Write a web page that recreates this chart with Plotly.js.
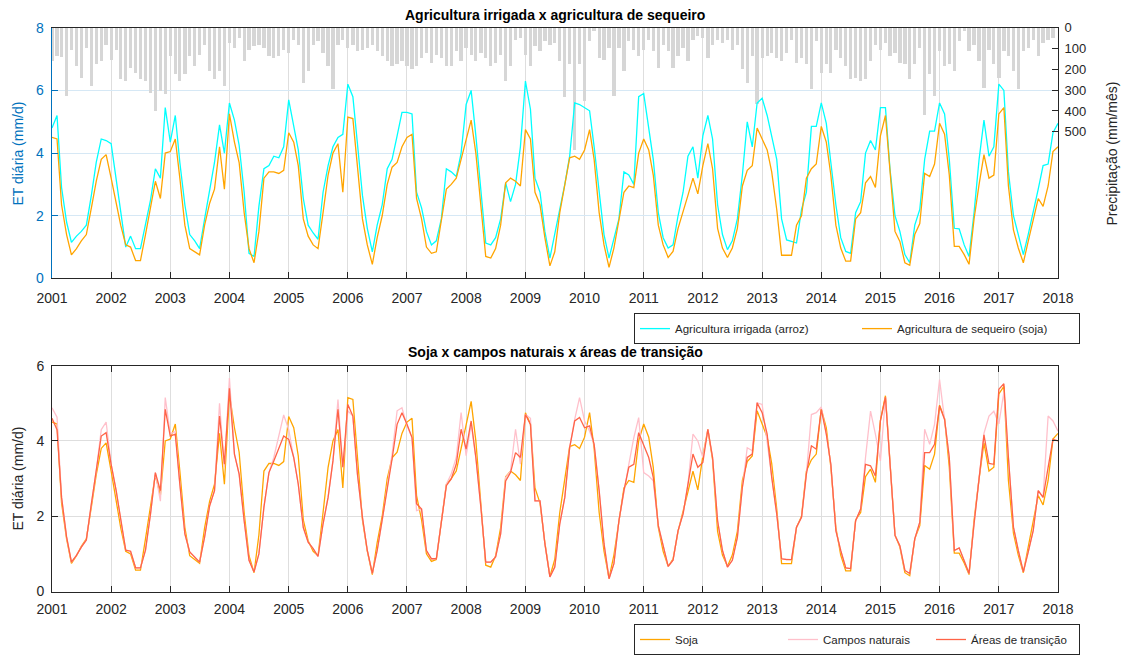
<!DOCTYPE html>
<html>
<head>
<meta charset="utf-8">
<script src="https://cdn.plot.ly/plotly-3.0.1.min.js"></script>
<style>html,body{margin:0;padding:0;background:#fff;}#chart{width:1125px;height:655px;}</style>
</head>
<body>
<div id="chart"></div>
<script>
// ---- data ----
const yearTicks = [2001,2002,2003,2004,2005,2006,2007,2008,2009,2010,2011,2012,2013,2014,2015,2016,2017,2018];

// ET diária (mm/d), monthly Jan 2001 ... Jan 2018
const irrigadaArroz = [
 4.8,5.2,2.9,1.8,1.15,1.35,1.5,1.7,2.65,3.7,4.45,4.4,
 4.3,3.2,2.2,1.0,1.35,0.95,0.95,1.7,2.5,3.5,3.2,5.45,
 4.35,5.2,3.7,2.35,1.4,1.2,0.95,1.9,2.85,3.7,4.9,4.0,
 5.6,5.05,4.25,2.75,0.8,0.7,2.3,3.5,3.6,3.9,3.85,4.2,
 5.7,4.85,4.1,2.55,1.7,1.45,1.25,2.75,3.6,4.2,4.5,4.6,
 6.2,5.8,4.25,2.65,1.6,0.85,1.7,2.35,3.5,3.8,4.55,5.3,
 5.3,5.25,2.75,2.25,1.5,1.07,1.2,1.9,3.5,3.4,3.25,4.0,
 5.55,6.0,4.55,2.75,1.13,1.07,1.3,1.9,3.05,2.45,3.0,4.2,
 6.3,5.4,3.2,2.75,1.5,0.65,1.4,2.25,3.0,3.9,5.6,5.55,
 5.45,5.35,4.2,2.75,1.4,0.65,1.3,1.9,3.4,3.3,3.0,5.8,
 5.9,4.75,3.8,2.1,1.3,0.97,1.07,2.0,2.75,3.9,4.2,3.2,
 4.55,5.2,4.45,2.35,1.4,0.92,1.2,1.9,3.3,5.0,4.2,5.6,
 5.75,5.2,4.5,3.8,1.9,1.23,1.18,1.13,2.2,2.75,4.85,4.85,
 5.6,4.95,3.7,2.35,1.3,0.86,0.8,2.1,2.45,4.0,4.4,4.1,
 5.45,5.45,3.5,2.0,1.5,0.76,0.5,1.7,2.2,3.8,4.7,4.7,
 5.6,5.25,3.8,1.6,1.58,1.07,0.7,2.1,3.8,5.05,3.9,4.2,
 6.2,6.0,3.4,2.0,1.4,0.76,1.4,2.1,2.85,3.6,3.65,4.65,
 4.95];

const sequeiroSoja = [
 4.5,4.45,2.35,1.4,0.75,0.95,1.2,1.4,2.25,3.1,3.8,3.95,
 3.2,2.35,1.7,1.07,1.0,0.57,0.57,1.4,2.25,3.1,2.55,4.0,
 4.05,4.45,3.2,1.7,0.95,0.85,0.75,1.7,2.4,2.85,4.2,2.85,
 5.25,4.35,3.7,2.1,0.95,0.5,1.5,3.2,3.4,3.4,3.35,3.45,
 4.65,4.35,3.6,1.9,1.35,1.07,0.95,2.1,3.3,4.0,4.3,2.75,
 5.15,5.1,3.6,1.9,1.07,0.45,1.3,2.0,3.0,3.55,3.7,4.2,
 4.5,4.6,2.55,1.9,1.0,0.8,0.85,1.9,2.85,3.0,3.2,3.8,
 4.45,5.05,4.0,2.35,0.7,0.65,0.95,1.7,3.05,3.2,3.1,2.95,
 4.75,4.45,2.75,2.35,1.3,0.4,0.85,2.1,3.0,3.85,3.9,3.8,
 4.1,4.75,3.8,2.1,1.07,0.35,0.97,1.9,2.75,2.95,2.9,4.0,
 4.45,4.1,3.3,1.7,1.07,0.67,0.86,1.6,2.1,2.65,3.2,2.7,
 3.6,4.3,3.5,1.6,0.97,0.67,0.97,1.6,2.95,3.45,3.6,4.8,
 4.45,4.1,3.4,2.2,0.74,0.74,0.74,1.7,2.0,3.2,3.5,3.65,
 4.85,4.35,3.3,1.7,0.97,0.55,0.55,1.9,2.1,3.05,3.25,2.9,
 4.55,5.2,3.3,1.5,1.18,0.5,0.42,1.4,1.75,3.35,3.25,3.65,
 4.95,4.6,3.3,1.02,1.02,0.76,0.45,1.9,3.0,3.95,3.2,3.3,
 5.25,5.45,2.95,1.55,0.97,0.5,1.18,1.9,2.55,2.3,2.95,4.05,
 4.2];

const camposNaturais = [
 4.88,4.63,2.5,1.45,0.78,0.96,1.18,1.37,2.33,3.2,4.3,4.5,
 3.38,2.68,1.9,1.1,1.07,0.63,0.63,1.1,2.06,3.16,2.4,5.15,
 4.18,4.25,2.85,1.53,1.05,0.92,0.78,1.45,2.28,2.68,5.0,3.3,
 5.67,3.65,3.12,1.88,0.83,0.52,1.0,2.24,3.16,3.56,4.1,4.69,
 4.3,3.56,2.85,1.7,1.31,1.14,0.93,1.8,2.5,3.47,5.1,3.3,
 4.8,4.66,3.12,1.97,1.09,0.48,1.09,1.88,2.85,3.65,4.8,4.88,
 4.4,4.09,2.15,2.19,1.09,0.87,0.87,1.8,2.85,3.12,3.56,4.75,
 3.61,4.44,3.56,2.24,0.78,0.78,0.92,1.53,3.03,3.2,4.31,3.38,
 4.7,4.6,2.41,2.41,1.27,0.39,0.65,1.8,2.5,3.82,4.57,5.15,
 4.53,4.26,3.91,2.68,1.27,0.34,0.74,1.88,2.68,3.38,4.09,4.62,
 3.16,3.07,2.94,1.75,1.22,0.67,0.83,1.62,2.06,2.85,4.18,4.0,
 3.56,4.31,3.56,1.88,1.09,0.65,0.83,1.44,2.77,3.82,3.74,5.01,
 4.97,4.0,3.03,2.06,0.87,0.85,0.85,1.71,1.97,3.12,4.7,4.75,
 4.9,4.18,3.38,1.62,1.09,0.63,0.61,1.88,2.19,3.56,4.79,4.18,
 3.47,5.16,3.3,1.49,1.22,0.56,0.48,1.4,1.84,4.31,3.91,4.44,
 5.63,4.57,3.56,1.09,1.16,0.83,0.48,1.8,3.0,4.2,4.66,4.79,
 4.45,5.3,3.56,1.71,1.09,0.52,1.05,1.62,2.68,2.5,4.66,4.53,
 4.26];

const areasTransicao = [
 4.6,4.3,2.5,1.45,0.78,0.96,1.18,1.37,2.33,3.2,4.13,4.22,
 3.38,2.68,1.9,1.1,1.07,0.63,0.63,1.1,2.06,3.16,2.68,4.84,
 4.13,4.18,2.85,1.53,1.05,0.92,0.78,1.45,2.28,2.68,4.66,3.38,
 5.4,3.65,3.12,1.88,0.83,0.52,1.0,2.24,3.16,3.47,3.82,4.13,
 4.04,3.56,2.85,1.7,1.31,1.14,0.93,1.8,2.5,3.47,4.84,3.3,
 4.97,4.66,3.12,1.97,1.09,0.48,1.09,1.88,2.68,3.52,4.44,4.75,
 4.44,4.09,2.33,2.19,1.09,0.87,0.87,1.8,2.81,2.99,3.38,4.31,
 3.78,4.53,3.56,2.24,0.78,0.78,0.92,1.53,2.94,3.16,3.69,3.56,
 4.7,4.44,2.41,2.41,1.27,0.39,0.65,1.8,2.5,3.82,4.53,4.62,
 4.35,4.4,3.91,2.68,1.27,0.34,0.74,1.88,2.68,3.3,3.38,4.22,
 3.91,3.56,3.03,1.75,1.22,0.67,0.83,1.62,2.06,2.85,3.65,3.3,
 3.43,4.31,3.56,1.88,1.09,0.65,0.83,1.44,2.77,3.56,3.65,5.01,
 4.75,4.18,3.03,2.06,0.87,0.85,0.85,1.71,1.97,3.12,3.87,3.78,
 4.84,4.18,3.38,1.62,1.09,0.63,0.61,1.88,2.19,3.38,3.34,3.07,
 4.53,5.16,3.3,1.49,1.22,0.56,0.48,1.4,1.84,3.69,3.69,3.91,
 4.93,4.57,3.56,1.09,1.16,0.83,0.48,1.8,3.03,4.16,3.4,3.38,
 5.37,5.52,3.56,1.71,1.09,0.52,1.05,1.62,2.68,2.5,3.3,4.04,
 4.0];

// Precipitação (mm/mês), monthly Jan 2001 ... Dec 2017
const precipitacao = [
 160,137,140,327,105,184,240,97,280,176,160,81,
 153,105,248,256,192,216,248,256,312,400,304,320,
 137,224,256,224,137,184,129,81,208,248,208,280,
 73,97,49,160,105,89,81,97,137,145,137,105,
 121,57,81,264,208,81,65,121,184,296,81,57,
 97,81,113,105,97,81,113,137,160,184,176,160,
 184,200,184,145,121,168,129,145,184,184,113,160,
 97,129,160,121,145,184,168,129,256,184,57,49,
 129,184,89,113,65,81,73,160,335,176,590,176,
 350,65,17,145,153,97,327,97,208,65,105,137,
 105,57,113,192,81,113,192,137,97,160,57,41,
 49,145,81,57,73,57,105,81,200,264,137,367,
 145,137,121,145,160,121,57,168,145,176,296,65,
 216,176,216,105,145,184,248,240,256,248,160,81,
 105,73,137,121,168,176,248,176,97,420,224,327,
 113,184,176,208,65,17,113,81,160,288,105,176,
 240,113,137,208,296,113,97,57,137,73,57,49];

const precipTicks = [0,100,200,300,400,500];

// ---- month dates ----
const months = [];
for (let y = 2001; y <= 2017; y++) {
  for (let m = 1; m <= 12; m++) months.push(y + '-' + String(m).padStart(2,'0') + '-01');
}
months.push('2018-01-01');

const yearDates = yearTicks.map(y => y + '-01-01');
const yearLabels = yearTicks.map(String);

const FONT = 'Liberation Sans, Arial, Helvetica, sans-serif';
const BLUE = '#0072BD';
const DARK = '#262626';
const W = 1125, H = 655;
const px = x => x / W;
const py = y => 1 - y / H;

const xDomain = [px(52), px(1058)];

const traces = [
  { type:'bar', x: months.slice(0, precipitacao.length), y: precipitacao,
    xaxis:'x', yaxis:'y', marker:{color:'#d6d6d6', line:{width:0}},
    width: 1.75e9, showlegend:false, hoverinfo:'skip' },
  { type:'scatter', mode:'lines', x: months, y: irrigadaArroz, name:'Agricultura irrigada (arroz)',
    xaxis:'x', yaxis:'y2', line:{color:'#00FFFF', width:1.3}, legend:'legend' },
  { type:'scatter', mode:'lines', x: months, y: sequeiroSoja, name:'Agricultura de sequeiro (soja)',
    xaxis:'x', yaxis:'y2', line:{color:'#FFA500', width:1.3}, legend:'legend' },
  { type:'scatter', mode:'lines', x: months, y: sequeiroSoja, name:'Soja',
    xaxis:'x2', yaxis:'y3', line:{color:'#FFA500', width:1.3}, legend:'legend2' },
  { type:'scatter', mode:'lines', x: months, y: camposNaturais, name:'Campos naturais',
    xaxis:'x2', yaxis:'y3', line:{color:'#FFC0CB', width:1.3}, legend:'legend2' },
  { type:'scatter', mode:'lines', x: months, y: areasTransicao, name:'Áreas de transição',
    xaxis:'x2', yaxis:'y3', line:{color:'#FF6347', width:1.3}, legend:'legend2' }
];

const xCommon = {
  type:'date', range:['2001-01-01','2018-01-01'], domain:xDomain,
  tickmode:'array', tickvals:yearDates, ticktext:yearLabels,
  ticks:'inside', ticklen:6, tickcolor:DARK, tickwidth:1,
  showgrid:true, gridcolor:'#dedede', gridwidth:1,
  showline:true, linecolor:DARK, linewidth:1,
  tickfont:{family:FONT, size:14, color:DARK}, zeroline:false
};

const legendCommon = {
  orientation:'h', x:px(1080), xanchor:'right', yanchor:'top',
  bgcolor:'#fff', bordercolor:DARK, borderwidth:1,
  font:{family:FONT, size:11.5, color:DARK}, itemwidth:30, tracegroupgap:0
};

const layout = {
  width:W, height:H, margin:{l:0,r:0,t:0,b:0},
  paper_bgcolor:'#fff', plot_bgcolor:'#fff', font:{family:FONT},
  bargap:0,
  xaxis: Object.assign({}, xCommon, {anchor:'y', mirror:true, ticklabelstandoff:7}),
  xaxis2: Object.assign({}, xCommon, {anchor:'y3', mirror:'ticks', ticklabelstandoff:5}),
  yaxis: { domain:[py(281), py(28)], anchor:'x', side:'right', range:[1205,0],
    tickmode:'array', tickvals:precipTicks, ticktext:precipTicks.map(String),
    ticks:'inside', ticklen:6, tickcolor:DARK, showgrid:false, zeroline:false,
    showline:true, linecolor:DARK, linewidth:1, ticklabelstandoff:3,
    tickfont:{family:FONT, size:13, color:DARK} },
  yaxis2: { overlaying:'y', anchor:'x', side:'left', range:[0,8],
    tickmode:'array', tickvals:[0,2,4,6,8], ticks:'inside', ticklen:6, tickcolor:BLUE,
    showgrid:true, gridcolor:'#d6e8f5', zeroline:false, ticklabelstandoff:4,
    showline:true, linecolor:BLUE, linewidth:1.5,
    tickfont:{family:FONT, size:14, color:BLUE} },
  yaxis3: { domain:[py(597), py(369)], anchor:'x2', range:[0,6],
    tickmode:'array', tickvals:[0,2,4,6], ticks:'inside', ticklen:6, tickcolor:DARK,
    showgrid:true, gridcolor:'#dedede', zeroline:false, mirror:'ticks', ticklabelstandoff:4,
    showline:true, linecolor:DARK, linewidth:1,
    tickfont:{family:FONT, size:14, color:DARK} },
  legend: Object.assign({}, legendCommon, {y:py(316), entrywidth:177}),
  legend2: Object.assign({}, legendCommon, {y:py(630), entrywidth:103}),
  annotations: [
    { text:'<b>Agricultura irrigada x agricultura de sequeiro</b>', xref:'paper', yref:'paper',
      x:px(555), y:py(15), xanchor:'center', yanchor:'middle', showarrow:false,
      font:{family:FONT, size:14, color:'#000'} },
    { text:'<b>Soja x campos naturais x áreas de transição</b>', xref:'paper', yref:'paper',
      x:px(555), y:py(355), xanchor:'center', yanchor:'middle', showarrow:false,
      font:{family:FONT, size:14, color:'#000'} },
    { text:'ET diária (mm/d)', xref:'paper', yref:'paper', x:px(18), y:py(155),
      xanchor:'center', yanchor:'middle', textangle:-90, showarrow:false,
      font:{family:FONT, size:14, color:BLUE} },
    { text:'ET diária (mm/d)', xref:'paper', yref:'paper', x:px(18), y:py(483),
      xanchor:'center', yanchor:'middle', textangle:-90, showarrow:false,
      font:{family:FONT, size:14, color:DARK} },
    { text:'Precipitação (mm/mês)', xref:'paper', yref:'paper', x:px(1112), y:py(155),
      xanchor:'center', yanchor:'middle', textangle:-90, showarrow:false,
      font:{family:FONT, size:14, color:DARK} }
  ]
};

Plotly.newPlot('chart', traces, layout, {displayModeBar:false, staticPlot:true});
</script>
</body>
</html>
